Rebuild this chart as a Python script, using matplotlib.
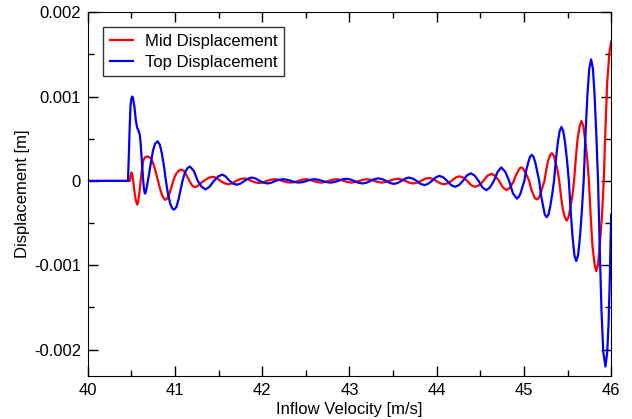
import matplotlib
matplotlib.use("Agg")
import matplotlib.pyplot as plt
import numpy as np
from matplotlib.ticker import MultipleLocator

plt.rcParams['font.family'] = ['Liberation Sans', 'DejaVu Sans']

# values: inflow velocity [m/s] and displacement [mm]
mid_x = [40.0, 40.48, 40.49, 40.50, 40.51, 40.52, 40.535, 40.55, 40.565, 40.575, 40.59,
         40.605, 40.62, 40.635, 40.655, 40.69, 40.72, 40.745, 40.77, 40.80, 40.83, 40.855,
         40.885, 40.91, 40.935, 40.96, 40.985, 41.01, 41.04, 41.07, 41.10, 41.125, 41.15,
         41.175, 41.20, 41.23, 41.26, 41.29, 41.33,
         41.38, 41.43, 41.475, 41.52, 41.565, 41.61, 41.655, 41.70,
         41.745, 41.79, 41.83, 41.875, 41.92, 41.96, 42.005, 42.05,
         42.095, 42.14, 42.185, 42.23, 42.275, 42.32, 42.365, 42.41,
         42.455, 42.50, 42.54, 42.585, 42.63, 42.67, 42.715, 42.76,
         42.805, 42.85, 42.89, 42.935, 42.98, 43.02, 43.065, 43.11,
         43.155, 43.20, 43.24, 43.285, 43.33, 43.37, 43.415, 43.46,
         43.505, 43.55, 43.595, 43.64, 43.685, 43.73, 43.775, 43.82,
         43.865, 43.91, 43.95, 43.995, 44.04, 44.08, 44.125, 44.17,
         44.215, 44.26, 44.305, 44.35, 44.395, 44.44, 44.49, 44.535,
         44.58, 44.63, 44.67, 44.715, 44.76, 44.80, 44.84, 44.885,
         44.905, 44.93, 44.95, 44.97, 44.99, 45.01, 45.035, 45.06,
         45.08, 45.105, 45.125, 45.15, 45.17, 45.19, 45.21, 45.235,
         45.255, 45.275, 45.30, 45.32, 45.34, 45.36, 45.385, 45.405,
         45.425, 45.445, 45.47, 45.49, 45.51, 45.53, 45.555, 45.575,
         45.595, 45.615, 45.64, 45.66, 45.68, 45.70, 45.725, 45.745,
         45.765, 45.785, 45.81, 45.83, 45.85, 45.87, 45.895, 45.915,
         45.935, 45.955, 45.98, 46.0]
mid_y = [0.0, 0.0, 0.06, 0.10, 0.07, 0.0, -0.13, -0.23, -0.28, -0.26, -0.15,
         0.0, 0.14, 0.24, 0.28, 0.29, 0.27, 0.22, 0.14, 0.02, -0.10, -0.18,
         -0.225, -0.21, -0.15, -0.07, 0.02, 0.08, 0.12, 0.135, 0.12, 0.08, 0.03,
         -0.02, -0.06, -0.075, -0.06, -0.03, 0.0,
         0.035, 0.05, 0.035, 0.0, -0.028, -0.04, -0.028, 0.0,
         0.021, 0.03, 0.021, 0.0, -0.018, -0.025, -0.018, 0.0,
         0.014, 0.02, 0.014, 0.0, -0.014, -0.02, -0.014, 0.0,
         0.014, 0.02, 0.014, 0.0, -0.014, -0.02, -0.014, 0.0,
         0.014, 0.02, 0.014, 0.0, -0.014, -0.02, -0.014, 0.0,
         0.014, 0.02, 0.014, 0.0, -0.014, -0.02, -0.014, 0.0,
         0.018, 0.025, 0.018, 0.0, -0.021, -0.03, -0.021, 0.0,
         0.025, 0.035, 0.025, 0.0, -0.028, -0.04, -0.028, 0.0,
         0.039, 0.055, 0.039, 0.0, -0.05, -0.07, -0.05, 0.0,
         0.06, 0.085, 0.06, 0.0, -0.078, -0.11, -0.078, 0.0,
         0.06, 0.11, 0.148, 0.16, 0.148, 0.11, 0.06, 0.0,
         -0.084, -0.155, -0.203, -0.22, -0.203, -0.155, -0.084, 0.0,
         0.126, 0.233, 0.305, 0.33, 0.305, 0.233, 0.126, 0.0,
         -0.18, -0.33, -0.434, -0.47, -0.434, -0.33, -0.18, 0.0,
         0.27, 0.50, 0.656, 0.71, 0.656, 0.50, 0.27, 0.0,
         -0.41, -0.76, -0.99, -1.07, -0.99, -0.76, -0.41, 0.0,
         0.63, 1.17, 1.52, 1.65]

top_x = [40.0, 40.46, 40.47, 40.48, 40.49, 40.50, 40.51, 40.52, 40.535, 40.55, 40.565,
         40.58, 40.595, 40.605, 40.62, 40.635, 40.645, 40.655, 40.665, 40.68, 40.70,
         40.72, 40.745, 40.77, 40.80, 40.825, 40.85, 40.875, 40.895, 40.92, 40.945,
         40.97, 40.99, 41.015, 41.04, 41.065, 41.085, 41.11, 41.14,
         41.17, 41.215, 41.26, 41.305, 41.35, 41.395, 41.445, 41.495,
         41.54, 41.58, 41.625, 41.665, 41.71, 41.75, 41.795, 41.84,
         41.88, 41.925, 41.97, 42.015, 42.06, 42.105, 42.15, 42.195,
         42.24, 42.285, 42.33, 42.375, 42.42, 42.465, 42.51, 42.555,
         42.60, 42.645, 42.69, 42.735, 42.78, 42.825, 42.87, 42.915,
         42.96, 43.005, 43.055, 43.10, 43.15, 43.195, 43.24, 43.285,
         43.33, 43.375, 43.42, 43.465, 43.51, 43.55, 43.595, 43.64,
         43.68, 43.725, 43.77, 43.815, 43.86, 43.90, 43.945, 43.99,
         44.03, 44.075, 44.12, 44.165, 44.21, 44.255, 44.30, 44.345,
         44.39, 44.435, 44.48, 44.525, 44.57, 44.61, 44.655, 44.70,
         44.74, 44.785, 44.83, 44.875,
         44.92, 44.94, 44.96, 44.98, 45.005, 45.025, 45.05, 45.07,
         45.09, 45.11, 45.13, 45.15, 45.175, 45.195, 45.22, 45.24,
         45.26, 45.281, 45.302, 45.324, 45.345, 45.366, 45.388, 45.409,
         45.43, 45.451, 45.472, 45.494, 45.515, 45.536, 45.558, 45.579,
         45.60, 45.621, 45.642, 45.664, 45.685, 45.706, 45.728, 45.749,
         45.77, 45.791, 45.81, 45.83, 45.85, 45.87, 45.89, 45.91,
         45.935, 45.955, 45.97, 45.985, 46.0]
top_y = [0.0, 0.0, 0.30, 0.65, 0.90, 0.98, 1.00, 0.97, 0.87, 0.72, 0.63,
         0.60, 0.55, 0.45, 0.22, 0.0, -0.11, -0.15, -0.13, -0.05, 0.07,
         0.20, 0.35, 0.44, 0.47, 0.43, 0.32, 0.16, 0.0, -0.16, -0.27,
         -0.33, -0.34, -0.31, -0.22, -0.10, 0.0, 0.09, 0.15,
         0.17, 0.12, 0.0, -0.07, -0.10, -0.07, 0.0, 0.053,
         0.075, 0.053, 0.0, -0.032, -0.045, -0.032, 0.0, 0.028,
         0.04, 0.028, 0.0, -0.021, -0.03, -0.021, 0.0, 0.014,
         0.02, 0.014, 0.0, -0.014, -0.02, -0.014, 0.0, 0.014,
         0.02, 0.014, 0.0, -0.014, -0.02, -0.014, 0.0, 0.018,
         0.025, 0.018, 0.0, -0.021, -0.03, -0.021, 0.0, 0.021,
         0.03, 0.021, 0.0, -0.025, -0.035, -0.025, 0.0, 0.028,
         0.04, 0.028, 0.0, -0.035, -0.05, -0.035, 0.0, 0.042,
         0.06, 0.042, 0.0, -0.05, -0.07, -0.05, 0.0, 0.064,
         0.09, 0.064, 0.0, -0.078, -0.11, -0.078, 0.0, 0.11,
         0.16, 0.11, 0.0, -0.15,
         -0.21, -0.19, -0.15, -0.08, 0.0, 0.12, 0.22, 0.285,
         0.31, 0.285, 0.22, 0.12, 0.0, -0.165, -0.30, -0.40,
         -0.43, -0.40, -0.30, -0.16, 0.0, 0.245, 0.45, 0.59,
         0.64, 0.59, 0.45, 0.245, 0.0, -0.36, -0.67, -0.88,
         -0.95, -0.88, -0.67, -0.36, 0.0, 0.55, 1.02, 1.33,
         1.44, 1.33, 1.02, 0.55, 0.0, -0.84, -1.56, -2.03,
         -2.20, -2.03, -1.70, -1.15, -0.40]

fig = plt.figure(figsize=(6.32, 4.19), dpi=100)
ax = fig.add_axes([0.139, 0.103, 0.828, 0.868])

# mm -> m
ax.plot(mid_x, np.array(mid_y) * 1e-3, color='#ff0000', lw=1.6, label='Mid Displacement')
ax.plot(top_x, np.array(top_y) * 1e-3, color='#0000ff', lw=1.6, label='Top Displacement')

ax.set_xlim(40, 46)
ax.set_ylim(-0.00231, 0.002)
ax.xaxis.set_major_locator(MultipleLocator(1))
ax.xaxis.set_minor_locator(MultipleLocator(0.5))
ax.yaxis.set_minor_locator(MultipleLocator(0.0005))
ax.set_yticks([-0.002, -0.001, 0, 0.001, 0.002])
ax.set_yticklabels(['-0.002', '-0.001', '0', '0.001', '0.002'])
ax.tick_params(which='both', direction='in', top=True, right=True, labelsize=12, width=1)
ax.tick_params(which='major', length=7, pad=5)
ax.tick_params(which='minor', length=4)

ax.set_xlabel('Inflow Velocity [m/s]', fontsize=12, labelpad=3)
ax.set_ylabel('Displacement [m]', fontsize=12, labelpad=3)

leg = ax.legend(loc='upper left', bbox_to_anchor=(0.029, 0.959), borderaxespad=0,
                fontsize=12, handlelength=1.4, frameon=True, fancybox=False,
                edgecolor='black', borderpad=0.4, labelspacing=0.35, handletextpad=0.7)
leg.get_frame().set_linewidth(1.0)

fig.savefig('out.png', dpi=100)
